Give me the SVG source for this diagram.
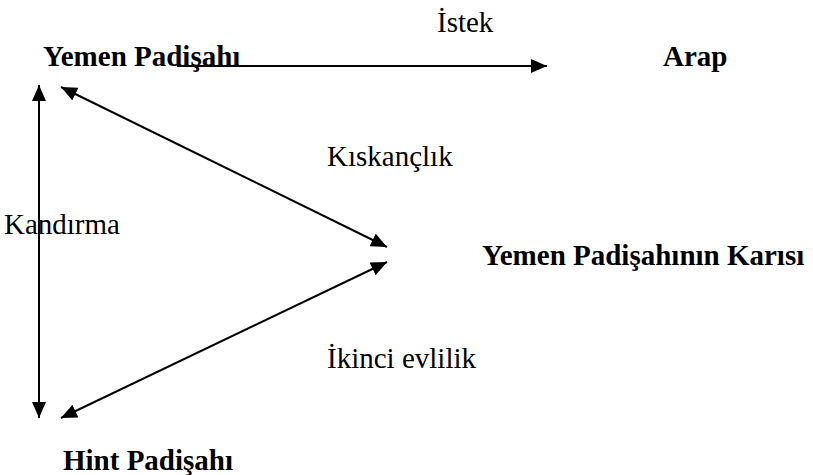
<svg xmlns="http://www.w3.org/2000/svg" width="813" height="475" viewBox="0 0 813 475">
  <style>
    .lbl { font-family: "Liberation Serif", "Times New Roman", serif; font-size: 29px; fill: #000; }
    .node { font-weight: bold; }
    .edge { stroke: #000; stroke-width: 2; fill: none; }
  </style>
  <defs>
    <marker id="head" viewBox="0 0 16 14" markerWidth="16" markerHeight="14" refX="16" refY="7" orient="auto-start-reverse" markerUnits="userSpaceOnUse">
      <path d="M0,0 L16,7 L0,14 z" fill="#000"/>
    </marker>
  </defs>
  <rect width="813" height="475" fill="#fff"/>

  <g id="connectors">
    <line class="edge" x1="177" y1="66" x2="547" y2="66" marker-end="url(#head)"/>
    <line class="edge" x1="39" y1="85" x2="39" y2="418" marker-start="url(#head)" marker-end="url(#head)"/>
    <line class="edge" x1="61" y1="87" x2="387" y2="247" marker-start="url(#head)" marker-end="url(#head)"/>
    <line class="edge" x1="61" y1="418" x2="387" y2="262" marker-start="url(#head)" marker-end="url(#head)"/>
    <text class="lbl" x="437" y="32">İstek</text>
    <text class="lbl" x="4" y="234">Kandırma</text>
    <text class="lbl" x="327" y="166">Kıskançlık</text>
    <text class="lbl" x="327" y="368">İkinci evlilik</text>
  </g>

  <g id="yemen-padisahi">
    <text class="lbl node" x="43" y="66">Yemen Padişahı</text>
  </g>
  <g id="arap">
    <text class="lbl node" x="663" y="66">Arap</text>
  </g>
  <g id="yemen-padisahinin-karisi">
    <text class="lbl node" x="482" y="265">Yemen Padişahının Karısı</text>
  </g>
  <g id="hint-padisahi">
    <text class="lbl node" x="63" y="470">Hint Padişahı</text>
  </g>
</svg>
